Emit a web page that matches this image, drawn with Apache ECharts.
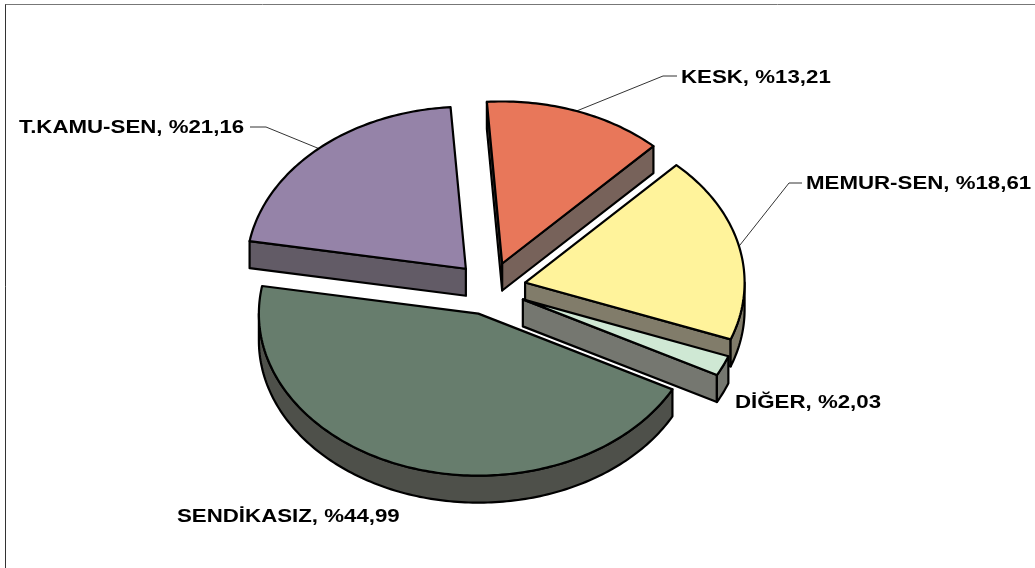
<!DOCTYPE html>
<html>
<head>
<meta charset="utf-8">
<title>Sendika dağılımı</title>
<style>
  html, body { margin: 0; padding: 0; background: #fff; }
  #chart { width: 1035px; height: 568px; }
</style>
<script src="https://cdn.jsdelivr.net/npm/echarts@6/dist/echarts.min.js"></script>
</head>
<body>
<div id="chart"></div>
<script>
  // values, clockwise from the top
  var categories = ['KESK', 'MEMUR-SEN', 'DİĞER', 'SENDİKASIZ', 'T.KAMU-SEN'];
  var shares = [13.21, 18.61, 2.03, 44.99, 21.16];
  var topColors = ['#E8775A', '#FFF39B', '#CFE8D4', '#677D6D', '#9583A8'];
  var sideColors = ['#77625A', '#817C6A', '#757770', '#4E504A', '#625B66'];

  // tilted pie geometry
  var pie = { cx: 490, cy: 288.5, rx: 219.5, ry: 162, depth: 27, explode: 36, startAngle: -4 };

  // label anchors, elbow is where the leader line bends (none = no leader)
  var labelPos = [
    { x: 681, y: 78, elbow: [[677, 76], [663, 76]] },
    { x: 806, y: 184, elbow: [[802, 183], [789, 183]] },
    { x: 735, y: 403 },
    { x: 177, y: 517 },
    { x: 19, y: 128, elbow: [[250, 127], [266, 127]] }
  ];

  var total = shares.reduce(function (a, b) { return a + b; }, 0);

  function rad(deg) { return deg * Math.PI / 180; }

  function rimPoint(c, deg, dy) {
    return [c[0] + pie.rx * Math.sin(rad(deg)), c[1] - pie.ry * Math.cos(rad(deg)) + (dy || 0)];
  }

  function arcPoints(c, a0, a1, dy) {
    var pts = [];
    var n = Math.max(2, Math.ceil(Math.abs(a1 - a0)));
    for (var i = 0; i <= n; i++) {
      pts.push(rimPoint(c, a0 + (a1 - a0) * i / n, dy));
    }
    return pts;
  }

  function poly(points, fill) {
    return {
      type: 'polygon',
      shape: { points: points },
      style: { fill: fill, stroke: '#000', lineWidth: 2.2, lineJoin: 'round' },
      silent: true
    };
  }

  function renderSlice(params, api) {
    var i = params.dataIndex;
    var before = 0;
    for (var k = 0; k < i; k++) before += shares[k];
    var a0 = pie.startAngle + before / total * 360;
    var a1 = a0 + api.value(0) / total * 360;
    var mid = (a0 + a1) / 2;
    var c = [
      pie.cx + pie.explode * Math.sin(rad(mid)),
      pie.cy - pie.explode * pie.ry / pie.rx * Math.cos(rad(mid))
    ];
    var low = [c[0], c[1] + pie.depth];
    var kids = [];

    // side walls facing the viewer
    function wall(deg) {
      kids.push(poly([c, rimPoint(c, deg), rimPoint(c, deg, pie.depth), low], sideColors[i]));
    }
    if (Math.sin(rad(a0)) < 0) wall(a0);
    if (Math.sin(rad(a1)) > 0) wall(a1);

    // rim, only the front half of the ellipse shows
    var r0 = Math.max(a0, 90);
    var r1 = Math.min(a1, 270);
    if (r1 > r0) {
      kids.push(poly(arcPoints(c, r0, r1).concat(arcPoints(c, r1, r0, pie.depth)), sideColors[i]));
    }

    // top face
    kids.push(poly([c].concat(arcPoints(c, a0, a1)), topColors[i]));

    // leader line and label
    var lab = labelPos[i];
    if (lab.elbow) {
      kids.unshift({
        type: 'polyline',
        shape: { points: lab.elbow.concat([rimPoint(c, mid)]) },
        style: { fill: null, stroke: '#333', lineWidth: 1 },
        silent: true
      });
    }
    kids.push({
      type: 'text',
      x: lab.x,
      y: lab.y,
      scaleX: 1.172,
      style: {
        text: categories[i] + ', %' + api.value(0).toFixed(2).replace('.', ','),
        fill: '#000',
        font: 'bold 19px "Liberation Sans", Arial, sans-serif',
        textAlign: 'left',
        textVerticalAlign: 'middle'
      },
      silent: true
    });

    return { type: 'group', children: kids };
  }

  var myChart = echarts.init(document.getElementById('chart'), null, { renderer: 'canvas' });
  myChart.setOption({
    animation: false,
    backgroundColor: '#fff',
    tooltip: { show: false },
    graphic: [
      { type: 'line', silent: true, shape: { x1: 5, y1: 4.5, x2: 1035, y2: 4.5 }, style: { stroke: '#777', lineWidth: 1 } },
      { type: 'line', silent: true, shape: { x1: 5.5, y1: 4.5, x2: 5.5, y2: 568 }, style: { stroke: '#333', lineWidth: 1 } }
    ],
    series: [
      {
        type: 'custom',
        coordinateSystem: 'none',
        renderItem: renderSlice,
        data: shares.map(function (v, i) { return { name: categories[i], value: [v] }; })
      }
    ]
  });
</script>
</body>
</html>
